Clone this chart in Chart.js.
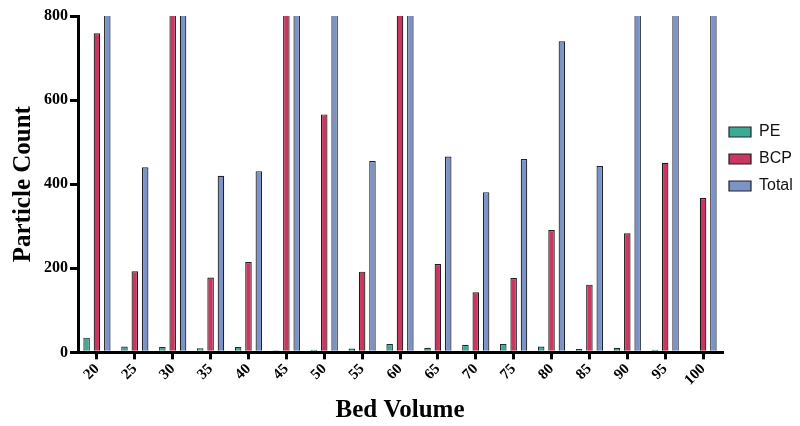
<!DOCTYPE html>
<html>
<head>
<meta charset="utf-8">
<script src="https://cdn.jsdelivr.net/npm/chart.js@4.4.1/dist/chart.umd.min.js"></script>
<style>
  html, body { margin: 0; padding: 0; background: #fff; }
  #wrap { width: 800px; height: 426px; }
</style>
</head>
<body>
<div id="wrap"><canvas id="c" width="800" height="426"></canvas></div>
<script>
const categories = ["20","25","30","35","40","45","50","55","60","65","70","75","80","85","90","95","100"];
const peValues    = [35, 14, 13, 10, 13, 5, 6, 9, 20, 11, 18, 20, 14, 8, 11, 6, 4];
const bcpValues   = [759, 193, 1050, 178, 215, 1400, 566, 192, 1200, 210, 143, 177, 291, 161, 283, 451, 367];
const totalValues = [1050, 440, 1500, 420, 431, 1800, 900, 455, 1600, 466, 381, 460, 740, 443, 850, 900, 870];
const yTicks = [0, 200, 400, 600, 800];

const serifBold = { family: "'Liberation Serif', 'Times New Roman', serif", weight: 'bold' };

const legendShift = {
  id: 'legendShift',
  afterLayout(chart) {
    const lg = chart.legend;
    if (!lg) return;
    const dy = -62, dx = -4;
    lg.top += dy; lg.bottom += dy;
    lg.left += dx; lg.right += dx;
  }
};

new Chart(document.getElementById('c'), {
  type: 'bar',
  data: {
    labels: categories,
    datasets: [
      { label: 'PE', data: peValues, backgroundColor: '#3aab96', borderColor: '#1f2a2a', borderWidth: 1.2 },
      { label: 'BCP', data: bcpValues, backgroundColor: '#c9365f', borderColor: '#1f1a1c', borderWidth: 1.2 },
      { label: 'Total', data: totalValues, backgroundColor: '#7b93c7', borderColor: '#1f2228', borderWidth: 1.2 }
    ]
  },
  options: {
    responsive: false,
    animation: false,
    datasets: { bar: { clip: 0, categoryPercentage: 0.82, barPercentage: 0.63 } },
    layout: { padding: { left: 9, top: 16, right: 0, bottom: 0 } },
    plugins: {
      legend: {
        position: 'right',
        align: 'center',
        maxWidth: 78,
        labels: {
          font: { family: "'Liberation Sans', Arial, sans-serif", size: 16 },
          color: '#111',
          boxWidth: 22,
          boxHeight: 10,
          padding: 11
        }
      },
      tooltip: { enabled: false }
    },
    scales: {
      x: {
        offset: true,
        grid: { display: true, drawOnChartArea: false, offset: false, drawTicks: true, tickLength: 7, lineWidth: 3, color: '#000' },
        border: { display: true, color: '#000', width: 3 },
        ticks: { color: '#000', font: { ...serifBold, size: 15 }, minRotation: 45, maxRotation: 45, padding: 1 },
        title: { display: true, text: 'Bed Volume', color: '#000', font: { ...serifBold, size: 25 }, padding: { top: 6, bottom: 0 } }
      },
      y: {
        min: 0, max: 800,
        afterBuildTicks: (axis) => { axis.ticks = yTicks.map(v => ({ value: v })); },
        grid: { display: true, drawOnChartArea: false, drawTicks: true, tickLength: 8, lineWidth: 3, color: '#000' },
        border: { display: true, color: '#000', width: 3 },
        ticks: { color: '#000', font: { ...serifBold, size: 16 }, padding: 2 },
        title: { display: true, text: 'Particle Count', color: '#000', font: { ...serifBold, size: 25 }, padding: { top: 0, bottom: 3 } }
      }
    }
  },
  plugins: [legendShift]
});
</script>
</body>
</html>
